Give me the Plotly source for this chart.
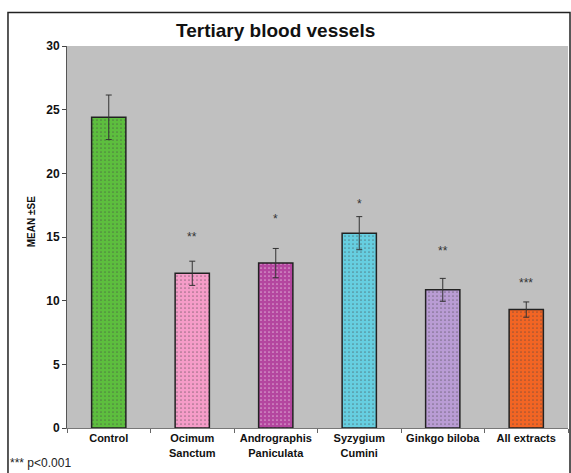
import plotly.graph_objects as go

categories = ["Control", "Ocimum<br>Sanctum", "Andrographis<br>Paniculata", "Syzygium<br>Cumini", "Ginkgo biloba", "All extracts"]
means = [24.4, 12.15, 12.95, 15.3, 10.85, 9.3]
se = [1.75, 0.95, 1.15, 1.3, 0.9, 0.6]
stars = ["", "**", "*", "*", "**", "***"]
star_y = [None, 15.0, 16.4, 17.6, 13.9, 11.4]
colors = ["#5DBE3E", "#F59CC8", "#B4469F", "#66CEE0", "#B99CD4", "#F26524"]

fig = go.Figure()
fig.add_trace(go.Bar(
    x=categories, y=means,
    marker=dict(color=colors, line=dict(color="#222222", width=1.5),
                pattern=dict(shape=".", size=4, solidity=0.15, fgcolor="rgba(0,0,0,0.15)")),
    error_y=dict(type="data", array=se, color="#333333", thickness=1, width=3),
    width=0.41,
))

for c, s, yv in zip(categories, stars, star_y):
    if s:
        fig.add_annotation(x=c, y=yv, text=s, showarrow=False,
                           font=dict(family="Arial, Liberation Sans", size=12, color="#333333"))

fig.add_annotation(xref="paper", yref="paper", x=0.5, y=1.0, yshift=16, xanchor="center",
                   yanchor="middle",
                   text="<b>Tertiary blood vessels</b>", showarrow=False, xshift=-42,
                   font=dict(family="Arial, Liberation Sans", size=19, color="#111111"))
fig.add_annotation(xref="paper", yref="paper", x=0, y=0.54, xshift=-43, textangle=-90,
                   text="<b>MEAN ±SE</b>", showarrow=False,
                   font=dict(family="Arial, Liberation Sans", size=10, color="#111111"))
fig.add_annotation(xref="paper", yref="paper", x=0, y=0, xshift=-59, yshift=-35, xanchor="left",
                   yanchor="middle", text="*** p<0.001", showarrow=False,
                   font=dict(family="Arial, Liberation Sans", size=12, color="#222222"))

fig.add_shape(type="rect", xref="paper", yref="paper", x0=-0.1178, x1=1.004, y0=-0.2, y1=1.088,
              line=dict(color="#222222", width=1.5), layer="below")

fig.update_layout(
    width=571, height=473,
    margin=dict(l=67, r=3, t=46, b=45),
    plot_bgcolor="#C0C0C0", paper_bgcolor="white",
    showlegend=False,
    font=dict(family="Arial, Liberation Sans", color="#111111"),
)
fig.update_yaxes(range=[0, 30], dtick=5, ticks="outside", ticklen=4, tickcolor="#444",
                 showline=True, linecolor="#555", linewidth=1, showgrid=False, zeroline=False,
                 tickfont=dict(size=12), tickprefix="<b>", ticksuffix="</b>")
fig.update_xaxes(ticks="outside", tickson="boundaries", ticklen=4, tickcolor="#666",
                 showline=True, linecolor="#777", linewidth=1, showgrid=False,
                 tickfont=dict(size=11), tickprefix="<b>", ticksuffix="</b>")

fig.write_html("out.html", config={"displayModeBar": False},
               post_script="document.body.style.margin='0';document.body.style.overflow='hidden';")
